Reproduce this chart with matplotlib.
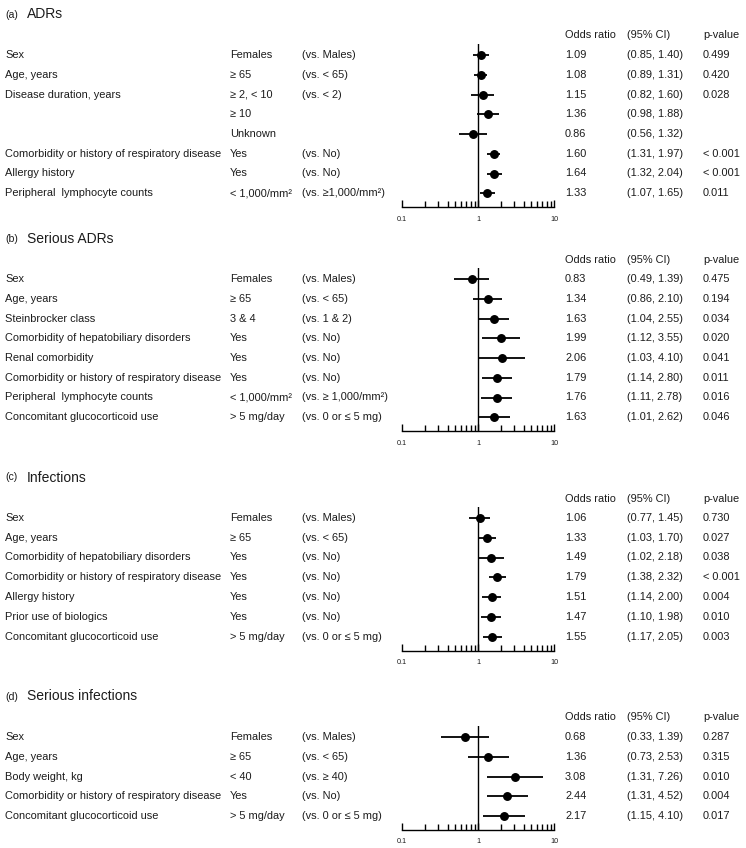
import matplotlib
matplotlib.use('Agg')
import matplotlib.pyplot as plt
import matplotlib.transforms as mtransforms
from matplotlib.ticker import FixedLocator, FixedFormatter, NullFormatter

plt.rcParams['font.family'] = ['Liberation Sans', 'DejaVu Sans']

W, H = 746, 848

# ---------------- data ----------------
a_tag, a_title = '(a)', 'ADRs'
a_vars = ['Sex', 'Age, years', 'Disease duration, years', '', '',
          'Comorbidity or history of respiratory disease', 'Allergy history',
          'Peripheral  lymphocyte counts']
a_levels = ['Females', '≥ 65', '≥ 2, < 10', '≥ 10', 'Unknown', 'Yes', 'Yes', '< 1,000/mm²']
a_refs = ['(vs. Males)', '(vs. < 65)', '(vs. < 2)', '', '', '(vs. No)', '(vs. No)',
          '(vs. ≥1,000/mm²)']
a_or = [1.09, 1.08, 1.15, 1.36, 0.86, 1.60, 1.64, 1.33]
a_lo = [0.85, 0.89, 0.82, 0.98, 0.56, 1.31, 1.32, 1.07]
a_hi = [1.40, 1.31, 1.60, 1.88, 1.32, 1.97, 2.04, 1.65]
a_p = ['0.499', '0.420', '0.028', '', '', '< 0.001', '< 0.001', '0.011']

b_tag, b_title = '(b)', 'Serious ADRs'
b_vars = ['Sex', 'Age, years', 'Steinbrocker class', 'Comorbidity of hepatobiliary disorders',
          'Renal comorbidity', 'Comorbidity or history of respiratory disease',
          'Peripheral  lymphocyte counts', 'Concomitant glucocorticoid use']
b_levels = ['Females', '≥ 65', '3 & 4', 'Yes', 'Yes', 'Yes', '< 1,000/mm²', '> 5 mg/day']
b_refs = ['(vs. Males)', '(vs. < 65)', '(vs. 1 & 2)', '(vs. No)', '(vs. No)', '(vs. No)',
          '(vs. ≥ 1,000/mm²)', '(vs. 0 or ≤ 5 mg)']
b_or = [0.83, 1.34, 1.63, 1.99, 2.06, 1.79, 1.76, 1.63]
b_lo = [0.49, 0.86, 1.04, 1.12, 1.03, 1.14, 1.11, 1.01]
b_hi = [1.39, 2.10, 2.55, 3.55, 4.10, 2.80, 2.78, 2.62]
b_p = ['0.475', '0.194', '0.034', '0.020', '0.041', '0.011', '0.016', '0.046']

c_tag, c_title = '(c)', 'Infections'
c_vars = ['Sex', 'Age, years', 'Comorbidity of hepatobiliary disorders',
          'Comorbidity or history of respiratory disease', 'Allergy history',
          'Prior use of biologics', 'Concomitant glucocorticoid use']
c_levels = ['Females', '≥ 65', 'Yes', 'Yes', 'Yes', 'Yes', '> 5 mg/day']
c_refs = ['(vs. Males)', '(vs. < 65)', '(vs. No)', '(vs. No)', '(vs. No)', '(vs. No)',
          '(vs. 0 or ≤ 5 mg)']
c_or = [1.06, 1.33, 1.49, 1.79, 1.51, 1.47, 1.55]
c_lo = [0.77, 1.03, 1.02, 1.38, 1.14, 1.10, 1.17]
c_hi = [1.45, 1.70, 2.18, 2.32, 2.00, 1.98, 2.05]
c_p = ['0.730', '0.027', '0.038', '< 0.001', '0.004', '0.010', '0.003']

d_tag, d_title = '(d)', 'Serious infections'
d_vars = ['Sex', 'Age, years', 'Body weight, kg',
          'Comorbidity or history of respiratory disease', 'Concomitant glucocorticoid use']
d_levels = ['Females', '≥ 65', '< 40', 'Yes', '> 5 mg/day']
d_refs = ['(vs. Males)', '(vs. < 65)', '(vs. ≥ 40)', '(vs. No)', '(vs. 0 or ≤ 5 mg)']
d_or = [0.68, 1.36, 3.08, 2.44, 2.17]
d_lo = [0.33, 0.73, 1.31, 1.31, 1.15]
d_hi = [1.39, 2.53, 7.26, 4.52, 4.10]
d_p = ['0.287', '0.315', '0.010', '0.004', '0.017']

headers = ['Odds ratio', '(95% CI)', 'p-value']
tick_vals = [0.1, 1, 10]
tick_labels = ['0.1', '1', '10']

# ---------------- layout (pixels) ----------------
panel_y0 = [55, 279, 518, 737]   # first row centre
row_h = 19.75
x_lab, x_lev, x_ref = 5, 230, 302
x_or, x_ci, x_p = 565, 627, 703
ax_left, ax_right = 402, 554
top_gap, bot_gap = 11, 14
fs = 7.9
tc = '#1c1c1c'

fig = plt.figure(figsize=(W / 100, H / 100), dpi=100)

panels = [
    (a_tag, a_title, a_vars, a_levels, a_refs, a_or, a_lo, a_hi, a_p),
    (b_tag, b_title, b_vars, b_levels, b_refs, b_or, b_lo, b_hi, b_p),
    (c_tag, c_title, c_vars, c_levels, c_refs, c_or, c_lo, c_hi, c_p),
    (d_tag, d_title, d_vars, d_levels, d_refs, d_or, d_lo, d_hi, d_p),
]

for (tag, title, vars_, levels, refs, ors, los, his, ps), y0 in zip(panels, panel_y0):
    n = len(ors)
    top_px = y0 - top_gap
    bot_px = y0 + (n - 1) * row_h + bot_gap
    ax = fig.add_axes([ax_left / W, 1 - bot_px / H,
                       (ax_right - ax_left) / W, (bot_px - top_px) / H])
    ax.set_xscale('log')
    ax.set_xlim(0.1, 10)
    ax.set_ylim(n - 1 + bot_gap / row_h, -top_gap / row_h)
    rows = list(range(n))

    ax.axvline(1, color='black', lw=1.0, zorder=1)
    ax.hlines(rows, los, his, color='black', lw=1.3, zorder=2)
    ax.plot(ors, rows, 'o', color='black', ms=5.4, zorder=3, clip_on=False)

    for s in ['left', 'right', 'top']:
        ax.spines[s].set_visible(False)
    ax.spines['bottom'].set_linewidth(1.0)
    ax.set_yticks([])
    ax.xaxis.set_major_locator(FixedLocator(tick_vals))
    ax.xaxis.set_major_formatter(FixedFormatter(tick_labels))
    minors = [m * 10.0 ** e for e in (-1, 0) for m in range(2, 10)]
    ax.xaxis.set_minor_locator(FixedLocator(minors))
    ax.xaxis.set_minor_formatter(NullFormatter())
    ax.tick_params(axis='x', which='major', direction='in', length=5, width=1.0,
                   labelsize=5.2, pad=6, labelcolor=tc)
    ax.tick_params(axis='x', which='minor', direction='in', length=4, width=1.0)
    ax.patch.set_visible(False)

    tr = mtransforms.blended_transform_factory(fig.transFigure, ax.transData)
    for i in rows:
        fig.text(x_lab / W, i, vars_[i], transform=tr, fontsize=fs, va='center', color=tc)
        fig.text(x_lev / W, i, levels[i], transform=tr, fontsize=fs, va='center', color=tc)
        fig.text(x_ref / W, i, refs[i], transform=tr, fontsize=fs, va='center', color=tc)
        fig.text(x_or / W, i, f'{ors[i]:.2f}', transform=tr, fontsize=fs, va='center',
                 color=tc)
        fig.text(x_ci / W, i, f'({los[i]:.2f}, {his[i]:.2f})', transform=tr,
                 fontsize=fs, va='center', color=tc)
        fig.text(x_p / W, i, ps[i], transform=tr, fontsize=fs, va='center', color=tc)
    hy = -19.5 / row_h
    for hx, h in zip([x_or, x_ci, x_p], headers):
        fig.text(hx / W, hy, h, transform=tr, fontsize=fs, va='center', color=tc)
    ty = -40.5 / row_h
    fig.text(5 / W, ty, tag, transform=tr, fontsize=7.6, va='center', color=tc)
    fig.text(27 / W, ty, title, transform=tr, fontsize=10, va='center', color=tc)

fig.savefig('out.png', dpi=100)
